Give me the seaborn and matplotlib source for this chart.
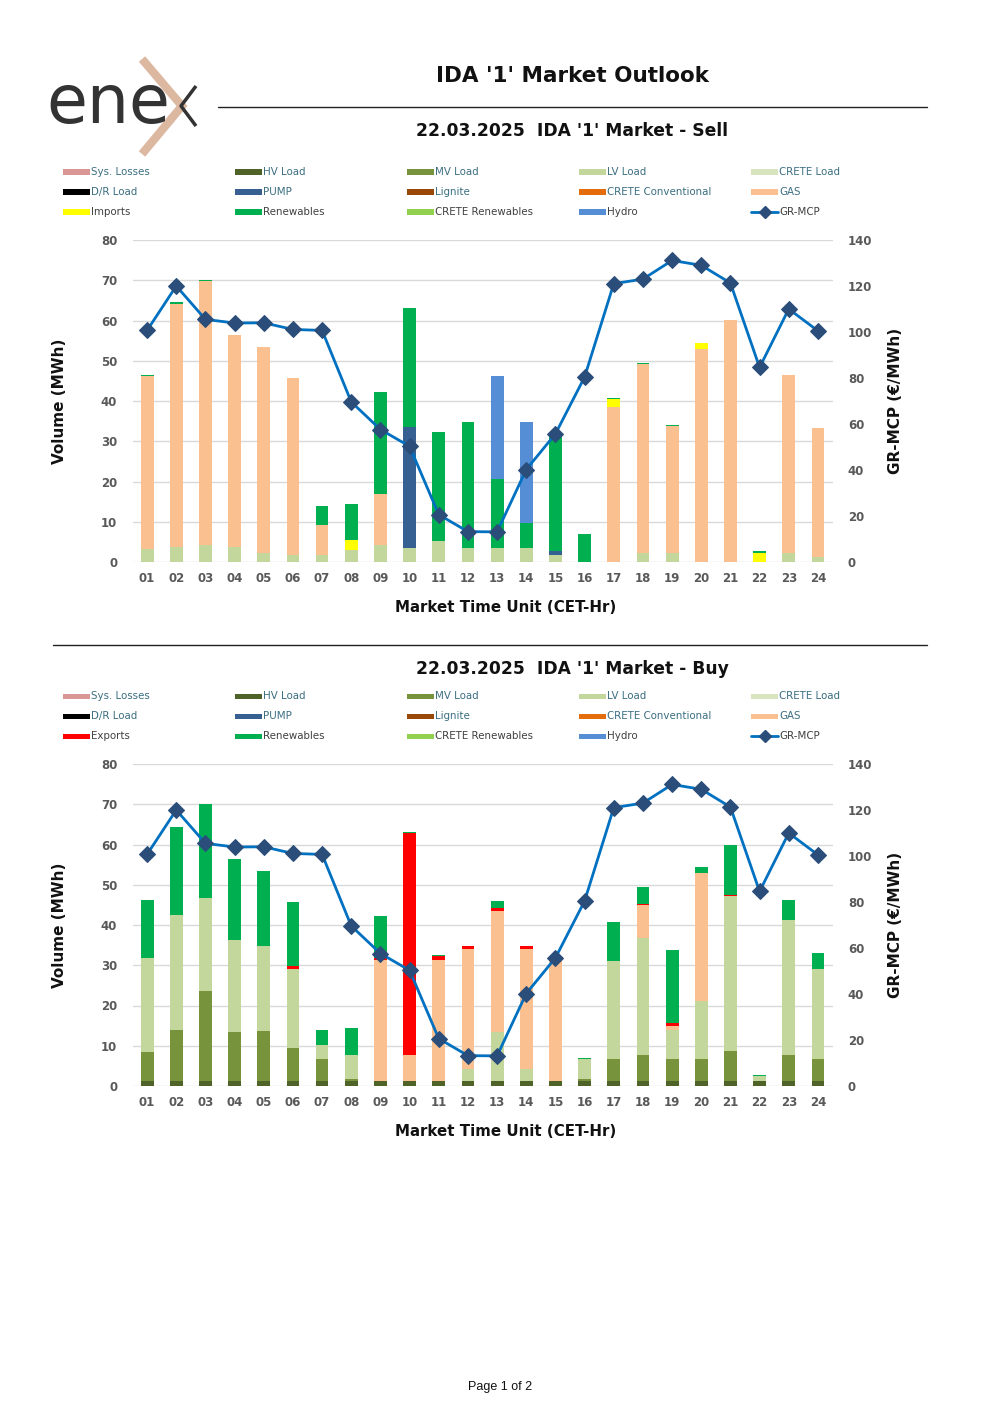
import numpy as np
import matplotlib
matplotlib.use("Agg")
import matplotlib.pyplot as plt
from matplotlib.patches import Rectangle
from matplotlib.lines import Line2D
import seaborn as sns

sns.set_style("white")
plt.rcParams['font.family'] = ['DejaVu Sans']

# ---- data ----
hours = ['%02d' % h for h in range(1, 25)]

mcp = [100.7, 120.0, 105.5, 103.9, 104.0, 101.1, 100.7, 69.6, 57.6, 50.3, 20.6, 13.2,
       13.1, 40.2, 55.7, 80.4, 121.0, 123.0, 131.1, 129.0, 121.3, 84.6, 110.0, 100.5]

# Sell side
sell_lv = [3.3, 3.7, 4.1, 3.7, 2.2, 1.7, 1.7, 3.1, 4.1, 3.6, 5.2, 3.6,
           3.6, 3.6, 1.7, 0, 0, 2.2, 2.2, 0, 0, 0, 2.2, 1.2]
sell_gas = [42.9, 60.5, 65.7, 52.6, 51.3, 43.9, 7.4, 0, 12.8, 0, 0, 0,
            0, 0, 0, 0, 38.5, 46.9, 31.5, 53.0, 60.1, 0, 44.2, 32.0]
sell_imports = [0, 0, 0, 0, 0, 0, 0, 2.3, 0, 0, 0, 0,
                0, 0, 0, 0, 2.0, 0, 0, 1.4, 0, 2.2, 0, 0]
sell_pump = [0, 0, 0, 0, 0, 0, 0, 0, 0, 29.9, 0, 0,
             0, 0, 1.0, 0, 0, 0, 0, 0, 0, 0, 0, 0]
sell_ren = [0.3, 0.3, 0.2, 0.2, 0, 0, 4.9, 9.1, 25.4, 29.6, 27.2, 31.3,
            17.1, 6.1, 29.2, 7.0, 0.3, 0.4, 0.3, 0, 0, 0.6, 0, 0]
sell_hydro = [0, 0, 0, 0, 0, 0, 0, 0, 0, 0, 0, 0,
              25.4, 25.2, 0, 0, 0, 0, 0, 0, 0, 0, 0, 0]

# Buy side
buy_hv = [1.3] * 24
buy_mv = [7.2, 12.6, 22.3, 12.2, 12.3, 8.1, 5.4, 0.4, 0, 0, 0, 0,
          0, 0, 0, 0.4, 5.3, 6.4, 5.3, 5.5, 7.5, 0, 6.3, 5.3]
buy_lv = [23.4, 28.5, 23.0, 22.7, 21.2, 19.7, 3.6, 5.9, 0, 0, 0, 2.8,
          12.1, 2.8, 0, 4.9, 24.5, 29.1, 7.2, 14.4, 38.3, 1.1, 33.6, 22.4]
buy_gas = [0, 0, 0, 0, 0, 0, 0, 0, 30.1, 6.3, 30.1, 29.9,
           30.2, 30.0, 30.2, 0, 0, 8.1, 1.1, 31.7, 0, 0, 0, 0]
buy_exports = [0, 0, 0, 0, 0, 0.6, 0, 0, 0.4, 55.3, 1.0, 0.7,
               0.5, 0.8, 0.4, 0.2, 0, 0.3, 0.8, 0, 0.3, 0, 0, 0]
buy_ren = [14.4, 22.0, 23.4, 20.3, 18.6, 15.9, 3.6, 6.9, 10.4, 0.3, 0.2, 0.2,
           1.9, 0, 0, 0.2, 9.6, 4.2, 18.2, 1.4, 12.6, 0.4, 5.0, 4.1]

colors = {
    'Sys. Losses': '#d99694', 'HV Load': '#4f6228', 'MV Load': '#77933c',
    'LV Load': '#c3d69b', 'CRETE Load': '#d7e4bd', 'D/R Load': '#000000',
    'PUMP': '#376092', 'Lignite': '#984807', 'CRETE Conventional': '#e46c0a',
    'GAS': '#fac090', 'Imports': '#ffff00', 'Exports': '#ff0000',
    'Renewables': '#00b050', 'CRETE Renewables': '#92d050', 'Hydro': '#558ed5',
}

sell_layers = [('LV Load', sell_lv), ('GAS', sell_gas), ('Imports', sell_imports),
               ('PUMP', sell_pump), ('Renewables', sell_ren), ('Hydro', sell_hydro)]
buy_layers = [('HV Load', buy_hv), ('MV Load', buy_mv), ('LV Load', buy_lv),
              ('GAS', buy_gas), ('Exports', buy_exports), ('Renewables', buy_ren)]

W, H = 1000, 1415
fig = plt.figure(figsize=(W / 100, H / 100), dpi=100)


def fx(x):
    return x / W


def fy(y):
    return 1 - y / H


TXT = '#404040'
TEAL = '#3b6e80'
LINE_C = '#0070c0'
MARK_C = '#2a4d7a'


def draw_legend(top, third):
    names = ['Sys. Losses', 'HV Load', 'MV Load', 'LV Load', 'CRETE Load',
             'D/R Load', 'PUMP', 'Lignite', 'CRETE Conventional', 'GAS',
             third, 'Renewables', 'CRETE Renewables', 'Hydro', 'GR-MCP']
    cols = [63, 235, 407, 579, 751]
    for i, name in enumerate(names):
        r, c = divmod(i, 5)
        y = top + r * 20
        x = cols[c]
        if name == 'GR-MCP':
            fig.add_artist(Line2D([fx(x), fx(x + 27)], [fy(y), fy(y)], color=LINE_C, lw=2))
            fig.add_artist(Line2D([fx(x + 13.5)], [fy(y)], marker='D', ms=6,
                                  color=MARK_C, lw=0))
        else:
            fig.add_artist(Rectangle((fx(x), fy(y + 2.5)), fx(27), 5 / H,
                                     color=colors[name], lw=0))
        fig.text(fx(x + 28), fy(y), name, fontsize=7.4, va='center', ha='left',
                 color=TEAL if r < 2 else TXT)


def draw_chart(top, title_y, layers, title, third):
    fig.text(fx(572), fy(title_y), title, fontsize=12.3, fontweight='bold',
             ha='center', va='center', color='#111111')
    draw_legend(top - 68, third)

    ax = fig.add_axes([fx(132.5), fy(top + 322), 700 / W, 322 / H])
    cum = np.zeros(24)
    stacks = []
    for name, vals in layers:
        cum = cum + np.array(vals)
        stacks.append((name, cum.copy()))
    # overlay from tallest to shortest so the pieces stack up
    for name, tops in reversed(stacks):
        sns.barplot(x=hours, y=tops, order=hours, color=colors[name], saturation=1,
                    width=0.44, linewidth=0, ax=ax)
    ax.set_ylim(0, 80)
    ax.set_xlim(-0.5, 23.5)
    ax.set_yticks(range(0, 81, 10))
    ax.grid(axis='y', color='#d9d9d9', lw=1)
    ax.set_axisbelow(True)
    for s in ax.spines.values():
        s.set_visible(False)
    ax.tick_params(axis='both', length=0, labelsize=8.5, labelcolor='#595959')
    ax.tick_params(axis='y', pad=11)
    ax.tick_params(axis='x', pad=7)
    for lab in ax.get_xticklabels() + ax.get_yticklabels():
        lab.set_fontweight('bold')
    ax.set_xlabel('')
    ax.set_ylabel('')

    ax2 = ax.twinx()
    sns.lineplot(x=np.arange(24), y=mcp, ax=ax2, color=LINE_C, lw=2, marker='D',
                 markersize=8, markerfacecolor=MARK_C, markeredgecolor=MARK_C)
    ax2.set_ylim(0, 140)
    ax2.set_yticks(range(0, 141, 20))
    for s in ax2.spines.values():
        s.set_visible(False)
    ax2.tick_params(axis='y', length=0, labelsize=8.5, labelcolor='#595959', pad=11)
    for lab in ax2.get_yticklabels():
        lab.set_fontweight('bold')
    ax2.set_ylabel('')

    fig.text(fx(60), fy(top + 161), 'Volume (MWh)', rotation=90, fontsize=11,
             fontweight='bold', ha='center', va='center', color='#111111')
    fig.text(fx(896), fy(top + 161), 'GR-MCP (€/MWh)', rotation=90, fontsize=11,
             fontweight='bold', ha='center', va='center', color='#111111')
    fig.text(fx(506), fy(top + 367), 'Market Time Unit (CET-Hr)', fontsize=10.8,
             fontweight='bold', ha='center', va='center', color='#111111')


# ---- header ----
fig.text(fx(46), fy(104), 'ene', fontsize=48, color='#333333', ha='left',
         va='center')
fig.add_artist(Line2D([fx(142), fx(182), fx(142)], [fy(59), fy(106), fy(154)],
                      color='#ddb8a0', lw=6, solid_joinstyle='miter',
                      solid_capstyle='butt'))
fig.add_artist(Line2D([fx(196), fx(181), fx(196)], [fy(86), fy(106), fy(126)],
                      color='#333333', lw=2.5, solid_capstyle='butt'))
fig.text(fx(572), fy(76), "IDA '1' Market Outlook", fontsize=15.5, fontweight='bold',
         ha='center', va='center', color='#111111')
fig.add_artist(Line2D([fx(218), fx(927)], [fy(107), fy(107)], color='#222222', lw=1))

draw_chart(240, 131, sell_layers, "22.03.2025  IDA '1' Market - Sell", 'Imports')
fig.add_artist(Line2D([fx(53), fx(927)], [fy(645), fy(645)], color='#222222', lw=1))
draw_chart(764, 669, buy_layers, "22.03.2025  IDA '1' Market - Buy", 'Exports')

fig.text(fx(500), fy(1387), 'Page 1 of 2', fontsize=9, ha='center', va='center',
         color='#111111', family='Liberation Sans')

fig.savefig('out.png', dpi=100)
